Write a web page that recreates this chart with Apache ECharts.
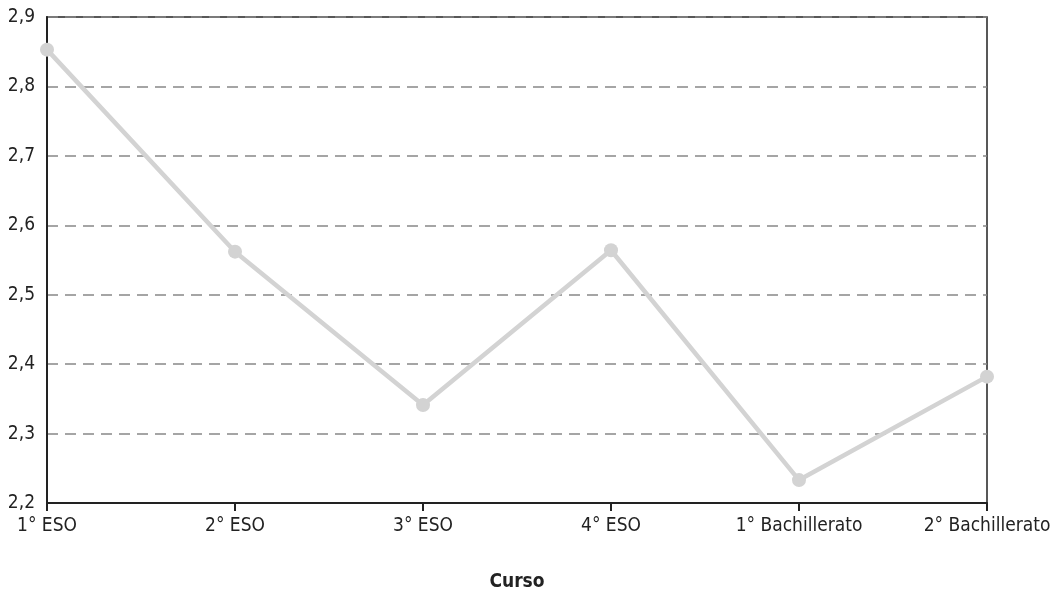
<!DOCTYPE html>
<html><head><meta charset="utf-8">
<script src="https://cdn.jsdelivr.net/npm/echarts@6/dist/echarts.min.js"></script>
<style>html,body{margin:0;padding:0;background:#fff}#c{width:1055px;height:594px}</style>
</head><body><div id="c"></div>
<script>
var categories = ["1° ESO", "2° ESO", "3° ESO", "4° ESO", "1° Bachillerato", "2° Bachillerato"];
var values = [2.853, 2.562, 2.341, 2.564, 2.233, 2.382];
var yTicks = [2.2, 2.3, 2.4, 2.5, 2.6, 2.7, 2.8, 2.9];
var FONT = "'Liberation Sans Narrow', 'DejaVu Sans Condensed', sans-serif";
var chart = echarts.init(document.getElementById('c'));
chart.setOption({
  animation: false,
  grid: {left: 47, right: 68, top: 17, bottom: 91, outerBoundsMode: 'none', containLabel: false,
    show: true, borderColor: '#222', borderWidth: 1.5, backgroundColor: 'transparent'},
  xAxis: {
    type: 'category', data: categories, boundaryGap: false,
    name: 'Curso', nameLocation: 'middle', nameGap: 70,
    nameTextStyle: {fontFamily: FONT, fontSize: 19, fontWeight: 'bold', color: '#222'},
    axisLine: {lineStyle: {color: '#222', width: 2}},
    axisTick: {show: true, length: 8, lineStyle: {color: '#222', width: 2}},
    axisLabel: {fontFamily: FONT, fontSize: 19, color: '#222', margin: 14}
  },
  yAxis: {
    type: 'value', min: 2.2, max: 2.9, interval: 0.1,
    axisLine: {show: true, lineStyle: {color: '#222', width: 2}},
    axisTick: {show: false},
    axisLabel: {fontFamily: FONT, fontSize: 19, color: '#222', margin: 12,
      formatter: function (v) { return v.toFixed(1).replace('.', ','); }},
    splitLine: {show: true, lineStyle: {color: '#888', width: 1.5, type: [11, 7]}}
  },
  series: [{
    type: 'line', data: values, symbol: 'circle', symbolSize: 14,
    lineStyle: {color: '#d3d3d3', width: 4.5},
    itemStyle: {color: '#d3d3d3'}
  }]
});
</script></body></html>
